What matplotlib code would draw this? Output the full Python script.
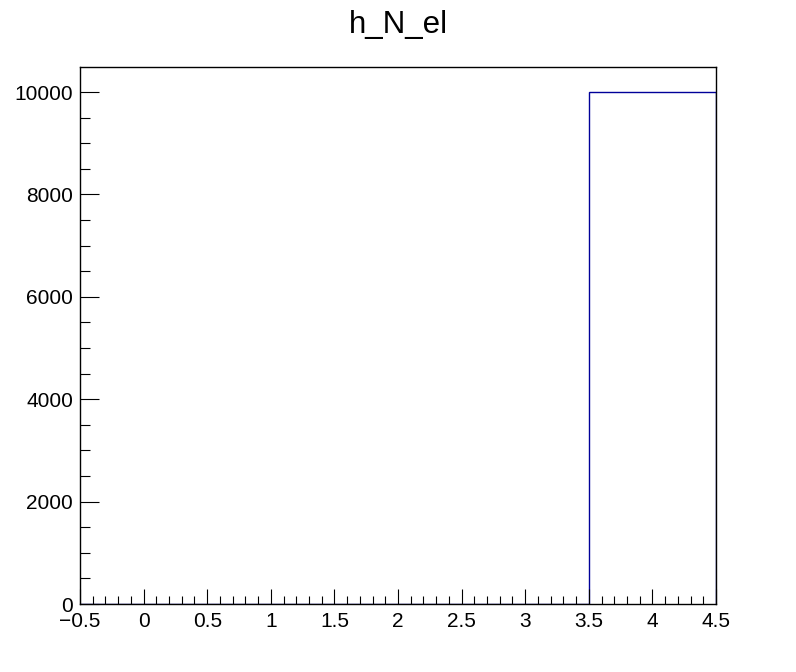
import matplotlib
matplotlib.use('Agg')
import matplotlib.pyplot as plt
from matplotlib.ticker import MultipleLocator
import numpy as np

plt.rcParams['font.family'] = ['Liberation Sans', 'DejaVu Sans']

# histogram data
bin_edges = [-0.5, 0.5, 1.5, 2.5, 3.5, 4.5]
counts = [0, 0, 0, 0, 10000]
title = "h_N_el"

fig = plt.figure(figsize=(7.96, 6.72), dpi=100)
ax = fig.add_axes([80/796, 68/672, 636/796, 537/672])

ax.stairs(counts, bin_edges, color='#000099', linewidth=1)

ax.set_xlim(-0.5, 4.5)
ax.set_ylim(0, 10490)
ax.xaxis.set_major_locator(MultipleLocator(0.5))
ax.xaxis.set_minor_locator(MultipleLocator(0.1))
ax.yaxis.set_major_locator(MultipleLocator(2000))
ax.yaxis.set_minor_locator(MultipleLocator(500))
ax.tick_params(which='both', direction='in', top=False, right=False, labelsize=15, width=0.8)
ax.tick_params(axis='x', which='major', length=11, pad=6)
ax.tick_params(axis='x', which='minor', length=6)
ax.tick_params(axis='y', which='major', length=14, pad=5)
ax.tick_params(axis='y', which='minor', length=7.5)
ax.xaxis.set_major_formatter(plt.FuncFormatter(lambda v, p: ('%g' % v).replace('-', '\u2212')))
for s in ax.spines.values():
    s.set_linewidth(1)

fig.text(0.5, 1 - 25/672, title, ha='center', va='center', fontsize=22.5)

plt.savefig("out.png", dpi=100)
